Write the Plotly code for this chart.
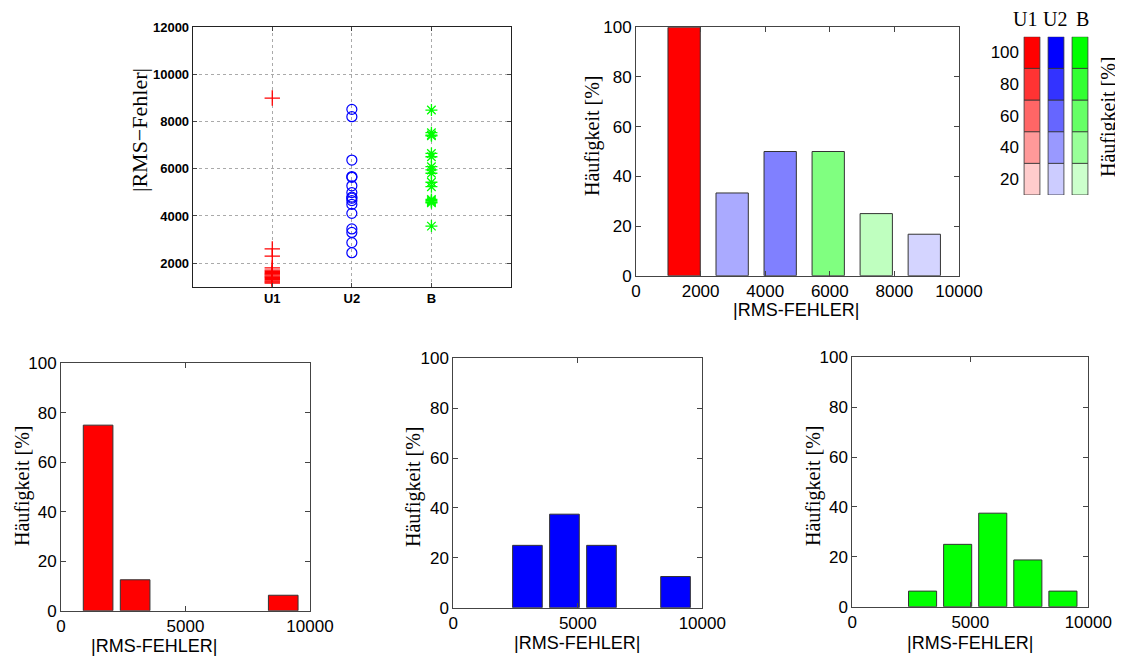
import plotly.graph_objects as go

# ---------------- data ----------------
groups = ["U1", "U2", "B"]
group_pos = [1, 2, 3]

u1_values = [9000, 2600, 2300, 1800, 1700, 1650, 1600, 1550, 1500, 1450,
             1400, 1350, 1300, 1250, 1200, 1150]
u2_values = [8520, 8210, 6370, 5670, 5640, 5280, 4990, 4800, 4750, 4650,
             4490, 4110, 3450, 3300, 2870, 2440]
b_values = [8490, 7530, 7430, 7400, 6650, 6510, 6090, 5950, 5810, 5430,
            5240, 4700, 4650, 4560, 4600, 3570]

bin_centers = [1490, 2977, 4464, 5951, 7438, 8925]
u1_freq = [75, 12.5, 0, 0, 0, 6.25]
u2_freq = [0, 25, 37.5, 25, 0, 12.5]
b_freq = [0, 6.25, 25, 37.5, 18.75, 6.25]

# combined histogram: dominant group per bin and its share
comb_group = ["U1", "U2", "U2", "B", "B", "U2"]
comb_value = [100, 33.3, 50, 50, 25, 16.7]

legend_levels = [20, 40, 60, 80, 100]

hist_ticks_top = [0, 2000, 4000, 6000, 8000, 10000]
hist_ticks_bottom = [0, 5000, 10000]
freq_ticks = [0, 20, 40, 60, 80, 100]
scatter_yticks = [2000, 4000, 6000, 8000, 10000, 12000]

# ---------------- styling ----------------
W, H = 1123, 657
OFF = 8  # page body margin in the browser
base_rgb = {"U1": (255, 0, 0), "U2": (0, 0, 255), "B": (0, 255, 0)}


def tint(group, v):
    r, g, b = base_rgb[group]
    f = v / 100.0
    return "rgb(%d,%d,%d)" % (round(r * f + 255 * (1 - f)),
                              round(g * f + 255 * (1 - f)),
                              round(b * f + 255 * (1 - f)))


def px_x(x):
    return (x - OFF) / W


def px_y(y):
    return 1 - (y - OFF) / H


def nz(vals):
    return [v if v > 0 else None for v in vals]


SANS = "Liberation Sans, Arial, sans-serif"
SERIF = "Liberation Serif, Times New Roman, serif"
AXC = "#444444"
BAR_LINE = dict(color="#333333", width=1)
TF = 17

fig = go.Figure()

# ---- scatter (top-left) ----
fig.add_trace(go.Scatter(x=[1] * len(u1_values), y=u1_values, mode="markers",
                         marker=dict(symbol="cross-thin", size=11,
                                     line=dict(color="#ff0000", width=1.3)),
                         xaxis="x", yaxis="y", showlegend=False))
fig.add_trace(go.Scatter(x=[2] * len(u2_values), y=u2_values, mode="markers",
                         marker=dict(symbol="circle-open", size=10, color="#0000ff",
                                     line=dict(color="#0000ff", width=1.2)),
                         xaxis="x", yaxis="y", showlegend=False))
fig.add_trace(go.Scatter(x=[3] * len(b_values), y=b_values, mode="markers",
                         marker=dict(symbol="asterisk-open", size=10, color="#00ff00",
                                     line=dict(color="#00ff00", width=1.3)),
                         xaxis="x", yaxis="y", showlegend=False))

# ---- combined histogram (top-right) ----
fig.add_trace(go.Bar(x=bin_centers, y=comb_value, width=1000,
                     marker=dict(color=[tint(g, v) for g, v in zip(comb_group, comb_value)],
                                 line=BAR_LINE),
                     xaxis="x2", yaxis="y2", showlegend=False))

# ---- legend colour blocks ----
for i, g in enumerate(groups):
    fig.add_trace(go.Bar(x=[group_pos[i]] * len(legend_levels), y=[20] * len(legend_levels),
                         base=[lv - 10 for lv in legend_levels], width=0.66,
                         marker=dict(color=[tint(g, lv) for lv in legend_levels],
                                     line=dict(color="#333333", width=0.8)),
                         xaxis="x3", yaxis="y3", showlegend=False))

# ---- single histograms (bottom) ----
for i, (freq, g) in enumerate([(u1_freq, "U1"), (u2_freq, "U2"), (b_freq, "B")]):
    fig.add_trace(go.Bar(x=bin_centers, y=nz(freq), width=1190,
                         marker=dict(color=tint(g, 100), line=BAR_LINE),
                         xaxis="x%d" % (4 + i), yaxis="y%d" % (4 + i), showlegend=False))

# ---------------- axes ----------------
box = dict(showline=True, linecolor=AXC, linewidth=1, mirror="allticks",
           ticks="inside", ticklen=5, tickcolor=AXC, zeroline=False, showgrid=False,
           automargin=False)

layout = dict(
    template="none",
    width=W, height=H, margin=dict(l=0, r=0, t=0, b=0, pad=0), autosize=False,
    paper_bgcolor="white", plot_bgcolor="white", barmode="overlay",
    font=dict(family=SANS, color="black"),
)

# scatter axes
layout["xaxis"] = dict(box, domain=[px_x(192.7), px_x(511)], range=[0, 4],
                       tickvals=group_pos, ticktext=["<b>%s</b>" % g for g in groups],
                       tickfont=dict(size=13, family=SANS), showgrid=True,
                       gridcolor="#aaaaaa", griddash="dot", gridwidth=1,
                       linecolor="#222222", anchor="y", ticklen=4)
layout["yaxis"] = dict(box, domain=[px_y(286.7), px_y(27.3)], range=[1000, 12000],
                       tickvals=scatter_yticks,
                       ticktext=["<b>%d</b>" % t for t in scatter_yticks],
                       tickfont=dict(size=13, family=SANS), showgrid=True,
                       gridcolor="#aaaaaa", griddash="dot", gridwidth=1,
                       linecolor="#222222", anchor="x", ticklen=4)

# combined histogram axes
layout["xaxis2"] = dict(box, domain=[px_x(636), px_x(959)], range=[0, 10000],
                        tickvals=hist_ticks_top, ticktext=[str(t) for t in hist_ticks_top],
                        tickfont=dict(size=TF), anchor="y2")
layout["yaxis2"] = dict(box, domain=[px_y(275.7), px_y(27.3)], range=[0, 100],
                        tickvals=freq_ticks, tickfont=dict(size=TF), anchor="x2")

# legend axes
layout["xaxis3"] = dict(domain=[px_x(1020), px_x(1092)], range=[0.5, 3.5],
                        showline=False, ticks="", showticklabels=False,
                        showgrid=False, zeroline=False, anchor="y3", automargin=False)
layout["yaxis3"] = dict(domain=[px_y(195), px_y(36.7)], range=[10, 110],
                        tickvals=legend_levels, showline=False, ticks="",
                        showgrid=False, zeroline=False, automargin=False,
                        tickfont=dict(size=TF), anchor="x3")

bottom_domains = [
    ([61, 310], [610.7, 363.3]),
    ([453.3, 702.3], [607.7, 358.3]),
    ([852.3, 1088.3], [606.7, 357.3]),
]
for i, (dx, dy) in enumerate(bottom_domains):
    n = 4 + i
    layout["xaxis%d" % n] = dict(box, domain=[px_x(dx[0]), px_x(dx[1])], range=[0, 10000],
                                 tickvals=hist_ticks_bottom,
                                 ticktext=[str(t) for t in hist_ticks_bottom],
                                 tickfont=dict(size=TF), anchor="y%d" % n)
    layout["yaxis%d" % n] = dict(box, domain=[px_y(dy[0]), px_y(dy[1])], range=[0, 100],
                                 tickvals=freq_ticks, tickfont=dict(size=TF),
                                 anchor="x%d" % n)

fig.update_layout(**layout)

# ---------------- titles as annotations ----------------
def ann(text, x, y, size, family, angle=0):
    fig.add_annotation(text=text, x=px_x(x), y=px_y(y), xref="paper", yref="paper",
                       showarrow=False, textangle=angle, xanchor="center", yanchor="middle",
                       font=dict(size=size, family=family, color="black"))


ann("|RMS−Fehler|", 139, 130, 22, SERIF, -90)
ann("Häufigkeit [%]", 592, 136, 20, SERIF, -90)
ann("|RMS-FEHLER|", 796, 310, 18, SANS)
ann("Häufigkeit [%]", 1108, 117, 20, SERIF, -90)

# legend column labels
legend_label_x = [1025, 1055, 1082]
for g, lx in zip(groups, legend_label_x):
    ann(g, lx, 19, 20, SERIF)

ann("Häufigkeit [%]", 22, 486, 20, SERIF, -90)
ann("|RMS-FEHLER|", 154, 646, 18, SANS)
ann("Häufigkeit [%]", 413, 487, 20, SERIF, -90)
ann("|RMS-FEHLER|", 577, 643, 18, SANS)
ann("Häufigkeit [%]", 813, 486, 20, SERIF, -90)
ann("|RMS-FEHLER|", 970, 643, 18, SANS)

fig.write_html("out.html")
